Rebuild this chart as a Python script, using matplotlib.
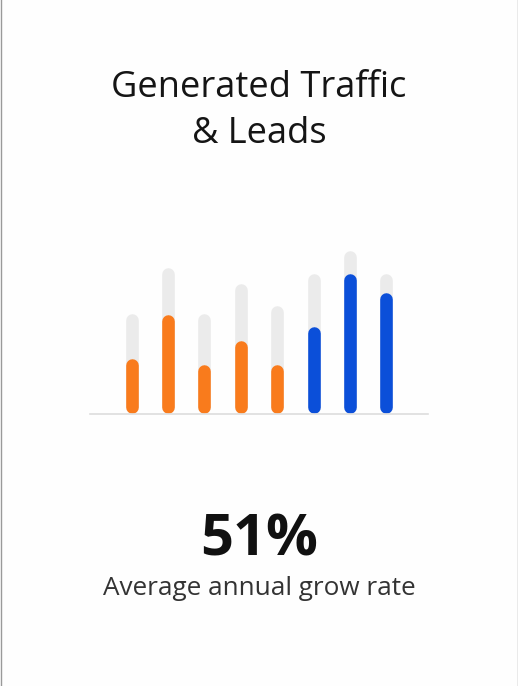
import matplotlib
matplotlib.use("Agg")
import matplotlib.pyplot as plt
from matplotlib.lines import Line2D

# Data (in relative units)
categories = ["1", "2", "3", "4", "5", "6", "7", "8"]
totals = [100, 146, 100, 130, 108, 140, 163, 140]
values = [55, 99, 49, 73, 49, 87, 140, 121]
colors = ["#F97B1C"] * 5 + ["#0B4FD9"] * 3
title_lines = ["Generated Traffic", "& Leads"]
big_number = "51%"
subtitle = "Average annual grow rate"

W, H, DPI = 518, 686, 100
fig = plt.figure(figsize=(W / DPI, H / DPI), dpi=DPI, facecolor="#FEFEFE")

# axes region in pixels
ax_left, ax_right = 90, 428
ax_top, ax_base = 240, 413.5
ax = fig.add_axes([ax_left / W, (H - ax_base) / H, (ax_right - ax_left) / W, (ax_base - ax_top) / H])
ax.set_facecolor("none")
span = ax_base - ax_top
ax.set_ylim(0, span)
ax.set_xlim(-1.14, len(categories) - 1 + 1.14)
ax.axis("off")

bar_px = 12.6
lw = bar_px * 72 / DPI
r = bar_px / 2
x = list(range(len(categories)))
ax.vlines(x, [r] * len(x), [t - r for t in totals], colors="#EBEBEB", linewidth=lw, capstyle="round")
for xi, v, c in zip(x, values, colors):
    ax.vlines(xi, r, v - r, colors=c, linewidth=lw, capstyle="round")
ax.axhline(-0.8, color="#DDDDDD", linewidth=1.2, clip_on=False)

fam = ["Open Sans", "Noto Sans", "DejaVu Sans"]
fig.text(0.5, (H - 97) / H, title_lines[0], ha="center", va="baseline", fontsize=26.1, family=fam, color="#151515")
fig.text(0.5, (H - 143) / H, title_lines[1], ha="center", va="baseline", fontsize=26.1, family=fam, color="#151515")
fig.text(0.5, (H - 555) / H, big_number, ha="center", va="baseline", fontsize=41.5, fontweight="bold", family=fam, color="#111111")
fig.text(0.5, (H - 595) / H, subtitle, ha="center", va="baseline", fontsize=18.8, family=fam, color="#333333")

# thin side borders
fig.add_artist(Line2D([0.5 / W, 0.5 / W], [0, 1], color="#9A9A9A", linewidth=1.0, transform=fig.transFigure))
fig.add_artist(Line2D([1 - 0.5 / W, 1 - 0.5 / W], [0, 1], color="#9A9A9A", linewidth=1.0, transform=fig.transFigure))

fig.savefig("out.png", dpi=DPI, facecolor=fig.get_facecolor())
